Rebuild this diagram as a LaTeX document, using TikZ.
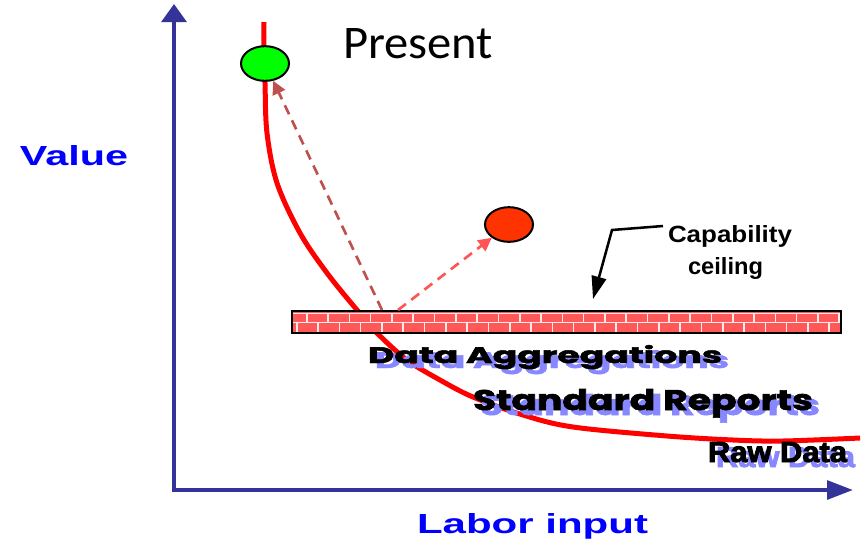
\documentclass[tikz,border=0pt]{standalone}
\usepackage{fontspec}
\usepackage{graphicx}
\usetikzlibrary{arrows.meta,shapes.geometric}
\newfontfamily\arialf{Liberation Sans}
\newfontfamily\heavyarial{Liberation Sans}[BoldFeatures={FakeBold=3}]
\newfontfamily\poppf{Poppins}
\newfontfamily\heavypopp{Poppins}[BoldFeatures={FakeBold=2}]
\newfontfamily\calf{Carlito}
\newdimen\pxu \pxu=0.75pt
\newcommand\fitto[3]{\resizebox{#1\pxu}{#2\pxu}{#3}}
\definecolor{axisblue}{RGB}{51,51,153}
\definecolor{labelblue}{RGB}{0,0,255}
\definecolor{brick}{RGB}{255,88,88}
\definecolor{mortar}{RGB}{255,235,235}
\definecolor{arrowA}{RGB}{192,80,77}
\definecolor{arrowB}{RGB}{255,85,85}
\definecolor{ballgreen}{RGB}{0,255,0}
\definecolor{ballred}{RGB}{255,51,0}
\definecolor{shadowblue}{RGB}{135,135,255}
\tikzset{
  txt/.style={inner sep=0pt, outer sep=0pt, anchor=base west},
  ball/.style={ellipse, draw=black, line width=1.5pt, minimum width=36pt, minimum height=26pt, inner sep=0pt},
  dasharrow/.style={line width=2pt, dash pattern=on 7.5pt off 5pt, -{Triangle[length=10pt,width=10pt]}},
  axisline/.style={draw=axisblue, line width=3pt},
}
\begin{document}
\begin{tikzpicture}[x=0.75pt,y=-0.75pt]
\useasboundingbox (0,0) rectangle (865,544);
% axes
\coordinate (ytip) at (174,4);
\coordinate (orig) at (174,490);
\coordinate (xtip) at (853,490);
\draw[axisline, {Triangle[length=13.5pt,width=18.5pt,fill=axisblue]}-{Triangle[length=19.5pt,width=14pt,fill=axisblue]}] (ytip) -- (orig) -- (xtip);
% curve
\draw[red, line width=3.75pt] plot[smooth, tension=0.55] coordinates {(264,22) (264,50) (265,83) (267,133) (277,183) (300,233) (327,273) (357,310) (377,333) (407,360) (440,380) (473,397) (523,415) (573,427) (667,436) (733,440) (783,441) (860,438)};
% brick bar
\begin{scope}
\clip (292,311) rectangle (841,333);
\fill[brick] (292,311) rectangle (841,333);
\draw[mortar, line width=1.2pt] (292,313.5) -- (841,313.5) (292,322.5) -- (841,322.5);
\foreach \i in {-1,...,25} {
  \draw[mortar, line width=1.2pt] (328+21.3*\i,313.5) -- ++(0,9);
  \draw[mortar, line width=1.2pt] (318+21.3*\i,322.5) -- ++(0,10);
}
\end{scope}
\node[draw=black, line width=1.9pt, anchor=north west, minimum width=411.75pt, minimum height=16.5pt, inner sep=0pt, outer sep=0pt] (bar) at (292,311) {};
% balls
\node[ball, fill=ballgreen] (green) at (265,63.5) {};
\node[ball, fill=ballred] (redball) at (509,224.5) {};
% dashed arrows
\coordinate (s1) at (382,310);
\coordinate (s2) at (398,310);
\draw[dasharrow, arrowA] (s1) -- (green);
\draw[dasharrow, arrowB] (s2) -- (redball);
% texts
\node[txt] (present) at (343,58) {\fitto{150}{30}{\calf Present}};
\node[txt, text=labelblue] (value) at (20,165) {\fitto{108}{20}{\arialf\bfseries Value}};
\node[txt, text=labelblue] (labor) at (417,533) {\fitto{231}{20}{\arialf\bfseries Labor input}};
\node[txt] (cap1) at (668,242) {\fitto{124}{17}{\arialf\bfseries Capability}};
\node[txt] (cap2) at (688,274) {\fitto{75}{17}{\arialf\bfseries ceiling}};
\coordinate (capstart) at (663,226);
\coordinate (capbend) at (612,230);
\coordinate (capend) at (593,299);
\draw[line width=1.9pt, -{Triangle[length=17pt,width=11pt]}] (capstart) -- (capbend) -- (capend);
% layer texts with shadows
\node[txt, text=shadowblue] (aggS) at (375,368) {\fitto{354}{18}{\heavypopp\bfseries Data Aggregations}};
\node[txt] (agg) at (368,363) {\fitto{354}{18}{\heavypopp\bfseries Data Aggregations}};
\node[txt, text=shadowblue] (stdS) at (480,415) {\fitto{340}{21}{\heavypopp\bfseries Standard Reports}};
\node[txt] (std) at (473,410) {\fitto{340}{21}{\heavypopp\bfseries Standard Reports}};
\node[txt, text=shadowblue] (rawS) at (716,467) {\fitto{139}{20}{\heavyarial\bfseries Raw Data}};
\node[txt] (raw) at (708,462) {\fitto{139}{20}{\heavyarial\bfseries Raw Data}};
\end{tikzpicture}
\end{document}
